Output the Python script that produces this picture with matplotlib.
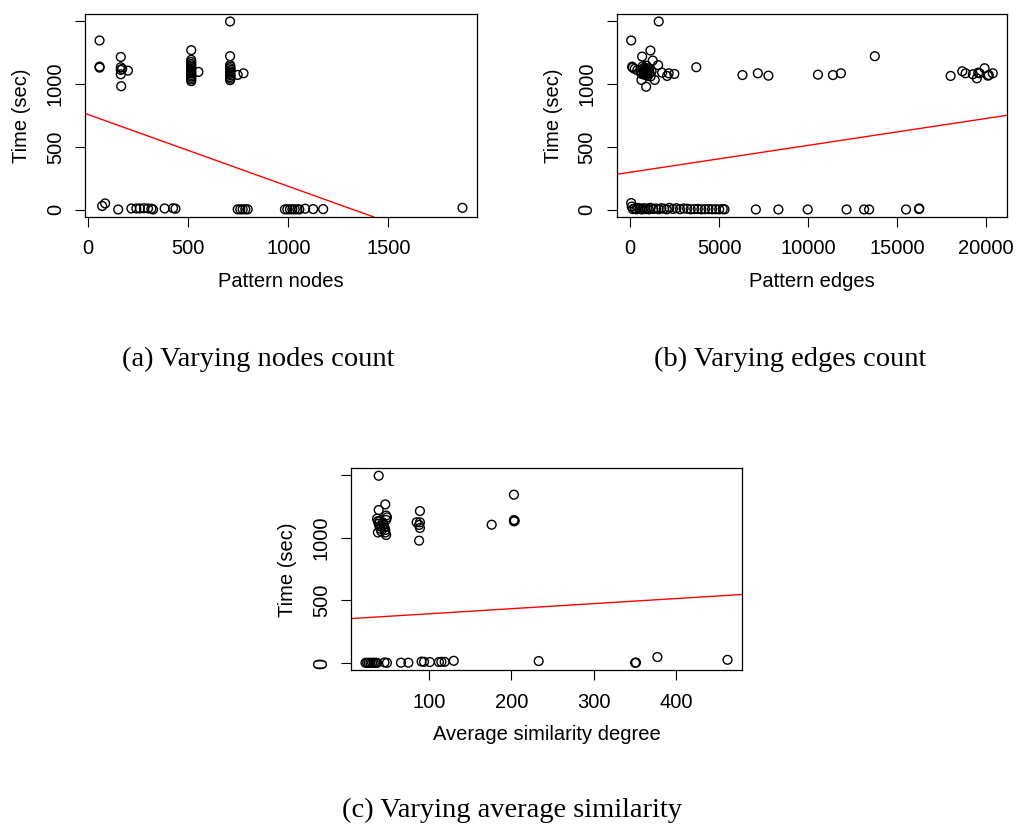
import numpy as np
import matplotlib
matplotlib.use("Agg")
import matplotlib.pyplot as plt

plt.rcParams['font.family'] = ['Liberation Sans', 'DejaVu Sans']

# (a) pattern nodes vs time
nodes_x = [57, 57, 57, 163, 163, 163, 170, 199, 163, 165,
           515, 515, 515, 515, 515, 515, 515, 515, 515, 515, 515, 515, 515, 515, 515, 551,
           709, 709, 709, 711, 709, 712, 709, 710, 709, 712, 709, 711, 709, 747, 776,
           70, 85, 150, 216, 241, 258, 279, 299, 316, 324, 382, 424, 436,
           747, 760, 772, 785, 797, 983, 995, 1008, 1020, 1032, 1045, 1055, 1084, 1124, 1174, 1870]
nodes_t = [1346, 1138, 1130, 1215, 1133, 1112, 1120, 1106, 1077, 982,
           1269, 1192, 1175, 1160, 1148, 1135, 1122, 1110, 1098, 1085, 1072, 1060, 1048, 1035, 1022, 1096,
           1497, 1221, 1150, 1138, 1125, 1112, 1100, 1090, 1080, 1068, 1055, 1042, 1030, 1072, 1085,
           30, 50, 2, 10, 10, 10, 12, 10, 8, 2, 10, 12, 8,
           3, 3, 3, 3, 3, 3, 3, 3, 3, 3, 3, 3, 8, 5, 5, 15]
nodes_fit = (757, -0.571)  # intercept, slope

# (b) pattern edges vs time
edges_x = [1604, 56, 1137, 672, 1266, 1568, 112, 140, 250, 400,
           700, 800, 900, 1000, 750, 850, 950, 1100, 650, 780, 880, 1000, 1150, 720, 820, 920, 1050, 1200, 600,
           1793, 2073, 2163, 2482, 3714, 896, 633, 1378,
           6308, 7171, 7765, 10549, 11390, 11838, 13742, 18000, 18655, 18842, 19250, 19474, 19552,
           19627, 19907, 20090, 20146, 20370,
           56, 90, 150, 250, 350, 450, 550, 650, 750, 850, 950, 1050, 1150, 1300, 1450, 1600, 1750,
           1900, 2050, 2200, 2400, 2600, 2800, 3000, 3200, 3400, 3600, 3800, 4000, 4200, 4400, 4600,
           4800, 5000, 5200, 5300,
           7059, 8325, 9972, 12157, 13143, 13423, 15496, 16224, 16240]
edges_t = [1497, 1346, 1266, 1218, 1186, 1150, 1138, 1130, 1120, 1110,
           1140, 1130, 1120, 1110, 1100, 1095, 1090, 1085, 1080, 1075, 1070, 1065, 1060, 1120, 1105, 1145, 1125, 1100, 1090,
           1090, 1064, 1085, 1080, 1133, 978, 1032, 1032,
           1071, 1085, 1066, 1074, 1071, 1085, 1221, 1064, 1101, 1085, 1077, 1045, 1090,
           1085, 1125, 1066, 1071, 1085,
           53, 25, 5, 10, 3, 15, 8, 2, 12, 5, 10, 3, 15, 6, 10, 4, 12,
           8, 3, 15, 6, 12, 4, 10, 8, 3, 5, 6, 3, 4, 5, 3,
           4, 3, 5, 3,
           2, 2, 2, 2, 2, 2, 2, 5, 10]
edges_fit = (298, 0.02139)

# (c) average similarity degree vs time
sim_x = [39, 39, 47, 37, 38, 39, 40, 41, 42, 38, 44, 45, 46, 47, 48, 48, 49, 48, 47, 40, 43,
         89, 85, 89, 88, 89, 88, 176, 203, 203, 203, 204,
         23, 25, 27, 29, 31, 33, 35, 37, 46, 49, 66, 75, 91, 94, 101, 112, 115, 119, 130,
         233, 350, 351, 377, 462]
sim_t = [1492, 1219, 1264, 1150, 1130, 1110, 1090, 1070, 1050, 1040, 1120, 1100, 1080, 1060, 1175, 1140, 1160, 1020, 1040, 1130, 1085,
         1211, 1121, 1121, 1100, 1076, 975, 1102, 1341, 1139, 1129, 1134,
         2, 2, 2, 2, 2, 2, 2, 2, 5, 2, 3, 3, 12, 10, 8, 8, 10, 10, 18,
         16, 2, 4, 48, 26]
sim_fit = (352, 0.405)

y_ticks = [0, 500, 1000, 1500]
y_ticklabels = ['0', '500', '1000', '']


def rlim(v):
    lo, hi = min(v), max(v)
    d = (hi - lo) * 0.04
    return lo - d, hi + d


def panel(rect, xs, ts, fit, xticks, xlabel):
    ax = fig.add_axes(rect)
    ax.scatter(xs, ts, s=40, facecolors='none', edgecolors='black', linewidths=1.0, zorder=3)
    xl, yl = rlim(xs), rlim(ts)
    ax.axline((0, fit[0]), slope=fit[1], color='red', lw=1)
    ax.set_xlim(xl)
    ax.set_ylim(yl)
    ax.set_xticks(xticks)
    ax.set_xticklabels([str(t) for t in xticks])
    ax.set_yticks(y_ticks)
    ax.set_yticklabels(y_ticklabels, rotation=90, va='center')
    ax.tick_params(direction='out', length=7, width=0.8, labelsize=14.5, pad=9)
    ax.tick_params(axis='y', pad=7.5)
    for s in ax.spines.values():
        s.set_linewidth(0.9)
    ax.set_xlabel(xlabel, fontsize=14.5, va='center')
    ax.xaxis.set_label_coords(0.5, -0.32)
    ax.set_ylabel('Time (sec)', fontsize=14.5, va='center')
    ax.yaxis.set_label_coords(-0.163, 0.5)
    return ax


fig = plt.figure(figsize=(10.16, 8.26), dpi=100)

panel([0.0837, 0.7373, 0.3858, 0.2458], nodes_x, nodes_t, nodes_fit,
      [0, 500, 1000, 1500], 'Pattern nodes')
panel([0.607, 0.7373, 0.3844, 0.2458], edges_x, edges_t, edges_fit,
      [0, 5000, 10000, 15000, 20000], 'Pattern edges')
panel([0.3455, 0.1885, 0.3848, 0.2446], sim_x, sim_t, sim_fit,
      [100, 200, 300, 400], 'Average similarity degree')

cap = dict(family=['Liberation Serif', 'DejaVu Serif'], fontsize=20.5, ha='center', va='baseline')
fig.text(258.7 / 1016, 1 - 366 / 826, '(a) Varying nodes count', **cap)
fig.text(790 / 1016, 1 - 366 / 826, '(b) Varying edges count', **cap)
fig.text(512.5 / 1016, 1 - 816.7 / 826, '(c) Varying average similarity', **cap)

fig.savefig('out.png', dpi=100)
